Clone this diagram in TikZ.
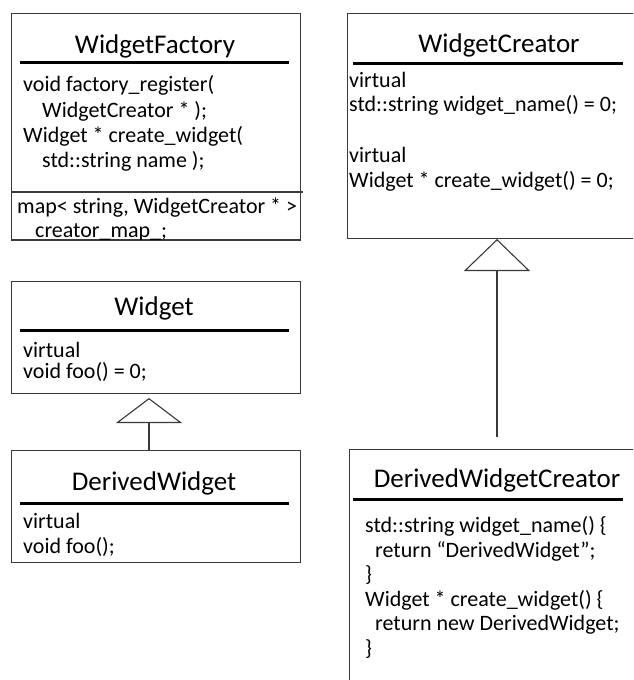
\documentclass[tikz,border=0pt]{standalone}
\usepackage{fontspec}
\setmainfont{Carlito}
\usetikzlibrary{arrows.meta}
\definecolor{boxline}{HTML}{3A3A3A}
\tikzset{
  umlbox/.style={draw=boxline, line width=1.3pt, fill=white, rectangle, inner sep=0pt, anchor=north west},
  umltitle/.style={font=\fontsize{27}{32}\selectfont, inner sep=0pt, anchor=base},
  umlbody/.style={font=\fontsize{22}{26}\selectfont, inner sep=0pt, anchor=base west},
  uline/.style={line width=3pt, black},
  sepline/.style={line width=1.3pt, boxline},
  inherit/.style={draw=boxline, line width=1.3pt, -{Triangle[open, fill=white, width=66pt, length=#1, line width=1.1pt]}},
}
\begin{document}
\begin{tikzpicture}[x=1pt, y=-1pt]
\useasboundingbox (0,0) rectangle (633,680);
\clip (0,0) rectangle (633,680);

% ---------- WidgetFactory ----------
\node[umlbox, minimum width=289pt, minimum height=226pt] (wf) at (11,13) {};
\node[umltitle] (wft) at (155,53) {WidgetFactory};
\draw[uline] (20,62) -- (289,62);
\node[umlbody] (wf1) at (23,91) {void factory\_register(};
\node[umlbody] (wf2) at (42,117) {WidgetCreator * );};
\node[umlbody] (wf3) at (23,142) {Widget * create\_widget(};
\node[umlbody] (wf4) at (42,167) {std::string name );};
\draw[sepline] (11,192) -- (303,192);
\node[umlbody] (wf5) at (17,213) {map< string, WidgetCreator * >};
\node[umlbody] (wf6) at (35,237) {creator\_map\_;};
\draw[sepline] (wf.south west) -- (wf.south east);

% ---------- WidgetCreator ----------
\node[umlbox, minimum width=400pt, minimum height=225pt] (wc) at (347,13) {};
\node[umltitle] (wct) at (499,52) {WidgetCreator};
\draw[uline] (353,63) -- (623,63);
\node[umlbody] (wc1) at (349,87) {virtual};
\node[umlbody] (wc2) at (349,111) {std::string widget\_name() = 0;};
\node[umlbody] (wc3) at (349,162) {virtual};
\node[umlbody] (wc4) at (349,187) {Widget * create\_widget() = 0;};

% ---------- Widget ----------
\node[umlbox, minimum width=289pt, minimum height=112pt] (w) at (11,281) {};
\node[umltitle] (wt) at (154,315) {Widget};
\draw[uline] (20,330) -- (289,330);
\node[umlbody] (w1) at (23,357) {virtual};
\node[umlbody] (w2) at (23,378) {void foo() = 0;};

% ---------- DerivedWidget ----------
\node[umlbox, minimum width=289pt, minimum height=112pt] (dw) at (11,450) {};
\node[umltitle] (dwt) at (154,490) {DerivedWidget};
\draw[uline] (20,503) -- (289,503);
\node[umlbody] (dw1) at (23,528) {virtual};
\node[umlbody] (dw2) at (23,553) {void foo();};

% ---------- DerivedWidgetCreator ----------
\node[umlbox, minimum width=400pt, minimum height=300pt] (dwc) at (349,449) {};
\node[umltitle] (dwct) at (497,487) {DerivedWidgetCreator};
\draw[uline] (353,499) -- (623,499);
\node[umlbody] (dwc1) at (365,532) {std::string widget\_name() \{};
\node[umlbody] (dwc2) at (375,557) {return “DerivedWidget”;};
\node[umlbody] (dwc3) at (365,581) {\}};
\node[umlbody] (dwc4) at (365,606) {Widget * create\_widget() \{};
\node[umlbody] (dwc5) at (375,630) {return new DerivedWidget;};
\node[umlbody] (dwc6) at (365,655) {\}};

% ---------- inheritance ----------
\coordinate (wtip) at (149,398);
\coordinate (wctip) at (497,239);
\draw[inherit=25pt] (dw.north -| wtip) -- (wtip);
\draw[inherit=32pt, shorten <=12pt] (dwc.north -| wctip) -- (wctip);
\end{tikzpicture}
\end{document}
